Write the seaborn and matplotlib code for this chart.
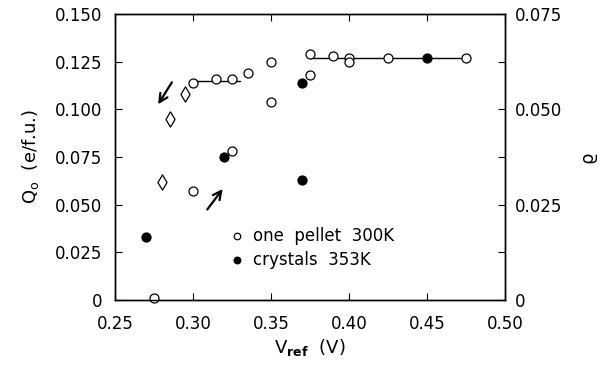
import matplotlib
matplotlib.use("Agg")
import matplotlib.pyplot as plt
import seaborn as sns
import pandas as pd
import numpy as np

# Data
pellet_v = [0.275, 0.300, 0.300, 0.315, 0.325, 0.325, 0.335, 0.350, 0.350, 0.375, 0.375, 0.390, 0.400, 0.400, 0.425, 0.475]
pellet_q = [0.001, 0.057, 0.114, 0.116, 0.116, 0.078, 0.119, 0.125, 0.104, 0.129, 0.118, 0.128, 0.127, 0.125, 0.127, 0.127]
crystal_v = [0.270, 0.320, 0.370, 0.370, 0.450]
crystal_q = [0.033, 0.075, 0.114, 0.063, 0.127]
diamond_v = [0.280, 0.285, 0.295]
diamond_q = [0.062, 0.095, 0.108]
plateau1_v = [0.300, 0.330]
plateau1_q = [0.115, 0.115]
plateau2_v = [0.375, 0.475]
plateau2_q = [0.127, 0.127]
x_ticks = [0.25, 0.30, 0.35, 0.40, 0.45, 0.50]
x_labels = ["0.25", "0.30", "0.35", "0.40", "0.45", "0.50"]
yl_ticks = [0, 0.025, 0.05, 0.075, 0.1, 0.125, 0.15]
yl_labels = ["0", "0.025", "0.050", "0.075", "0.100", "0.125", "0.150"]
yr_ticks = [0, 0.025, 0.05, 0.075]
yr_labels = ["0", "0.025", "0.050", "0.075"]

sns.set_theme(style="ticks")
plt.rcParams['font.family'] = ['DejaVu Sans']
plt.rcParams['text.color'] = 'black'
plt.rcParams['axes.labelcolor'] = 'black'

fig = plt.figure(figsize=(6.08, 3.66), dpi=100)
ax = fig.add_axes([115/608, 1-300/366, 390/608, 286/366])

sns.lineplot(x=plateau1_v, y=plateau1_q, ax=ax, color="black", lw=1.0, zorder=1)
sns.lineplot(x=plateau2_v, y=plateau2_q, ax=ax, color="black", lw=1.0, zorder=1)
sns.scatterplot(x=pellet_v, y=pellet_q, ax=ax, marker="o", s=42, facecolor="white",
                edgecolor="black", linewidth=0.9, zorder=3, clip_on=False)
sns.scatterplot(x=crystal_v, y=crystal_q, ax=ax, marker="o", s=42, color="black",
                edgecolor="black", linewidth=0.9, zorder=3)
sns.scatterplot(x=diamond_v, y=diamond_q, ax=ax, marker="d", s=60, facecolor="white",
                edgecolor="black", linewidth=0.9, zorder=3)

ax.annotate("", xy=(0.2767, 0.1014), xytext=(0.2874, 0.1154),
            arrowprops=dict(arrowstyle="->,head_length=0.5,head_width=0.25", color="black", lw=1.6))
ax.annotate("", xy=(0.3201, 0.0594), xytext=(0.3081, 0.0463),
            arrowprops=dict(arrowstyle="->,head_length=0.5,head_width=0.25", color="black", lw=1.6))

ax.set_xlim(0.25, 0.50)
ax.set_ylim(0, 0.15)
ax.set_xticks(x_ticks)
ax.set_xticklabels(x_labels)
ax.set_yticks(yl_ticks)
ax.set_yticklabels(yl_labels)
ax.tick_params(axis="both", direction="in", length=5, width=0.8, labelsize=12, colors="black")
ax.tick_params(axis="y", pad=9)
ax.tick_params(axis="x", top=True, pad=11)
ax.set_xlabel(r"V$_{\mathbf{ref}}$  (V)", fontsize=13, labelpad=3, color="black")
ax.set_ylabel(r"Q$_{\mathrm{o}}$  (e/f.u.)", fontsize=13, labelpad=10, color="black")
for s in ax.spines.values():
    s.set_linewidth(1.0)
    s.set_color("black")

ax2 = ax.twinx()
ax2.set_ylim(0, 0.075)
ax2.set_yticks(yr_ticks)
ax2.set_yticklabels(yr_labels)
ax2.set_yticks(np.arange(0, 0.076, 0.0125), minor=True)
ax2.tick_params(axis="y", which="both", direction="in", length=5, width=0.8, labelsize=12, colors="black", pad=7)
ax2.set_ylabel("ϱ", fontsize=13, rotation=90, labelpad=12, color="black")
for s in ax2.spines.values():
    s.set_linewidth(1.0)
    s.set_color("black")

# legend
ax.scatter([0.3285], [0.0335], s=22, facecolor="white", edgecolor="black", linewidth=0.9, zorder=3)
ax.scatter([0.3285], [0.0210], s=22, color="black", zorder=3)
ax.text(0.3385, 0.0335, "one  pellet  300K", fontsize=12, va="center", ha="left")
ax.text(0.3385, 0.0210, "crystals  353K", fontsize=12, va="center", ha="left")

fig.savefig("out.png", dpi=100)
